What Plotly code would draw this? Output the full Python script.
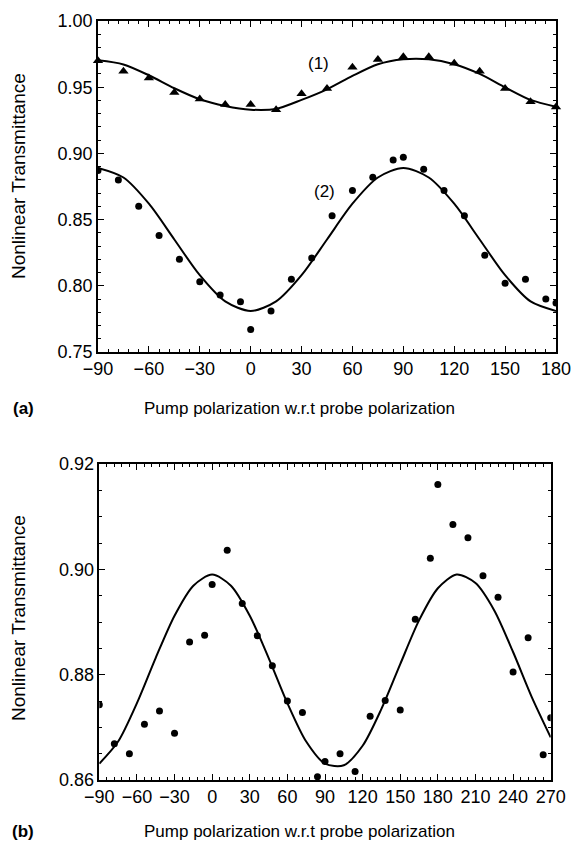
import plotly.graph_objects as go

# ---------- Panel (a) data ----------
s1_angle = [-90, -75, -60, -45, -30, -15, 0, 15, 30, 45, 60, 75, 90, 105, 120, 135, 150, 165, 180]
s1_val = [0.970, 0.962, 0.957, 0.946, 0.941, 0.937, 0.937, 0.933, 0.945, 0.949,
          0.965, 0.971, 0.973, 0.973, 0.968, 0.962, 0.949, 0.939, 0.935]

fit1_angle = [-90, -75, -60, -45, -30, -15, 0, 15, 30, 45, 60, 75, 90, 105, 120, 135, 150, 165, 180]
fit1_val = [0.9703, 0.9672, 0.9590, 0.9492, 0.9409, 0.9358, 0.9330, 0.9336, 0.9404, 0.9484,
            0.9585, 0.9673, 0.9711, 0.9711, 0.9673, 0.9600, 0.9499, 0.9404, 0.9353]

s2_angle = [-90, -78, -66, -54, -42, -30, -18, -6, 0, 12, 24, 36, 48, 60, 72, 84, 90,
            102, 114, 126, 138, 150, 162, 174, 180]
s2_val = [0.887, 0.880, 0.860, 0.838, 0.820, 0.803, 0.793, 0.788, 0.767, 0.781, 0.805, 0.821,
          0.853, 0.872, 0.882, 0.895, 0.897, 0.888, 0.872, 0.853, 0.823, 0.802, 0.805, 0.790, 0.787]

fit2_angle = [-90, -75, -60, -45, -30, -15, 0, 15, 30, 45, 60, 75, 90, 105, 120, 135, 150, 165, 180]
fit2_val = [0.889, 0.8818, 0.862, 0.835, 0.808, 0.7882, 0.781, 0.7882, 0.808, 0.835,
            0.862, 0.8818, 0.889, 0.8818, 0.862, 0.835, 0.808, 0.7882, 0.781]

# ---------- Panel (b) data ----------
b_angle = [-90, -78, -66, -54, -42, -30, -18, -6, 0, 12, 24, 36, 48, 60, 72, 84, 90, 102, 114,
           126, 138, 150, 162, 174, 180, 192, 204, 216, 228, 240, 252, 264, 270]
b_val = [0.8743, 0.8669, 0.8650, 0.8706, 0.8731, 0.8689, 0.8862, 0.8875, 0.8971, 0.9036, 0.8935,
         0.8874, 0.8817, 0.8750, 0.8728, 0.8606, 0.8635, 0.8650, 0.8616, 0.8721, 0.8751, 0.8733,
         0.8905, 0.9021, 0.9161, 0.9085, 0.9060, 0.8988, 0.8947, 0.8805, 0.8870, 0.8648, 0.8718]

fitb_angle = [-90, -75, -60, -45, -30, -15, 0, 15, 30, 45, 60, 75, 90, 105, 120, 135, 150,
              165, 180, 195, 210, 225, 240, 255, 270]
fitb_val = [0.8631, 0.8673, 0.8746, 0.8832, 0.8912, 0.8969, 0.8990, 0.8969, 0.8912, 0.8832,
            0.8746, 0.8673, 0.8631, 0.8628, 0.8665, 0.8735, 0.8820, 0.8903, 0.8964, 0.8990,
            0.8974, 0.8922, 0.8843, 0.8757, 0.8681]

W, H = 573, 845
FONT = "Liberation Sans, Arial, sans-serif"

fig = go.Figure()

fig.add_trace(go.Scatter(x=fit1_angle, y=fit1_val, mode="lines",
                         line=dict(color="black", width=2, shape="spline", smoothing=0.8),
                         xaxis="x", yaxis="y", showlegend=False))
fig.add_trace(go.Scatter(x=s1_angle, y=s1_val, mode="markers",
                         marker=dict(symbol="triangle-up", size=9, color="black"),
                         xaxis="x", yaxis="y", showlegend=False, cliponaxis=False))
fig.add_trace(go.Scatter(x=fit2_angle, y=fit2_val, mode="lines",
                         line=dict(color="black", width=2, shape="spline", smoothing=0.8),
                         xaxis="x", yaxis="y", showlegend=False))
fig.add_trace(go.Scatter(x=s2_angle, y=s2_val, mode="markers",
                         marker=dict(symbol="circle", size=7, color="black"),
                         xaxis="x", yaxis="y", showlegend=False))

fig.add_trace(go.Scatter(x=fitb_angle, y=fitb_val, mode="lines",
                         line=dict(color="black", width=2, shape="spline", smoothing=0.8),
                         xaxis="x2", yaxis="y2", showlegend=False))
fig.add_trace(go.Scatter(x=b_angle, y=b_val, mode="markers",
                         marker=dict(symbol="circle", size=7, color="black"),
                         xaxis="x2", yaxis="y2", showlegend=False))


def ax(domain, rng, dtick, minor_dtick, tick0, fmt, anchor):
    return dict(domain=domain, range=rng, dtick=dtick, tick0=tick0, tickformat=fmt,
                ticks="inside", ticklen=6, tickwidth=1, tickcolor="black",
                minor=dict(ticks="inside", ticklen=3, dtick=minor_dtick, tick0=tick0, tickcolor="black",
                           showgrid=False),
                showline=True, linecolor="black", linewidth=1.5, mirror="allticks",
                showgrid=False, zeroline=False, anchor=anchor, automargin=False,
                tickfont=dict(family=FONT, size=18, color="black"))


x1_dom = [98 / W, 556 / W]
y1_dom = [1 - 352 / H, 1 - 21 / H]
x2_dom = [99.3 / W, 550.7 / W]
y2_dom = [1 - 780 / H, 1 - 464 / H]

fig.update_layout(
    template="none",
    width=W, height=H, autosize=False,
    margin=dict(l=0, r=0, t=0, b=0, pad=0),
    paper_bgcolor="white", plot_bgcolor="white",
    font=dict(family=FONT, color="black"),
    xaxis=ax(x1_dom, [-90, 180], 30, 6, -90, "d", "y"),
    yaxis=ax(y1_dom, [0.75, 1.00], 0.05, 0.01, 0.75, ".2f", "x"),
    xaxis2=ax(x2_dom, [-90, 270], 30, 6, -90, "d", "y2"),
    yaxis2=ax(y2_dom, [0.86, 0.92], 0.02, 0.005, 0.86, ".2f", "x2"),
)

tf = dict(family=FONT, size=17, color="black")
tfy = dict(family=FONT, size=19, color="black")


def note(text, x, y, angle=0, font=tf):
    return dict(text=text, x=x / W, y=1 - y / H, xref="paper", yref="paper",
                xanchor="center", yanchor="middle", textangle=angle, showarrow=False, font=font)


ann = [
    note("Nonlinear Transmittance", 18, 176, -90, tfy),
    note("Nonlinear Transmittance", 18, 618, -90, tfy),
    note("Pump polarization w.r.t probe polarization", 299, 408),
    note("Pump polarization w.r.t probe polarization", 299, 831),
    note("<b>(a)</b>", 23, 408),
    note("<b>(b)</b>", 23, 831),
    note("(1)", 318, 64),
    note("(2)", 324, 192),
]
fig.update_layout(annotations=ann)

fig.write_html("out.html", config={"responsive": False})
